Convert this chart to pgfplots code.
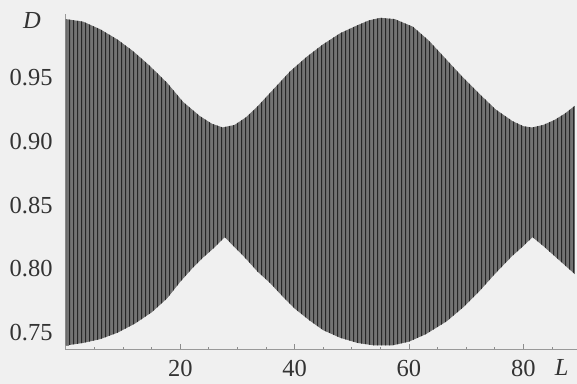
\documentclass[border=0pt]{standalone}
\usepackage{fontspec}
\setmainfont{Liberation Serif}
\usepackage{pgfplots}
\pgfplotsset{compat=1.18}
\usepackage{pgfplotstable}
\usetikzlibrary{patterns}
\pgfdeclarepatternformonly{vlinesdense}{\pgfpointorigin}{\pgfpoint{2.2pt}{1pt}}{\pgfpoint{2.2pt}{1pt}}%
{\pgfpathrectangle{\pgfpointorigin}{\pgfpoint{0.7pt}{1pt}}\pgfusepath{fill}}

% upper envelope (left to right), then lower envelope (right to left)
\pgfplotstableread{
L D
0 0.996
3 0.994
6 0.988
9 0.980
11.7 0.971
14.5 0.960
17.7 0.946
20.5 0.931
23.4 0.920
25.5 0.914
27.4 0.911
29.5 0.913
31.5 0.919
33.4 0.927
36.3 0.941
39.2 0.955
42 0.966
44.9 0.976
48 0.985
50.9 0.991
53 0.995
55 0.997
57.5 0.996
60.7 0.990
63.5 0.979
66.6 0.964
69.5 0.950
72.4 0.937
75.2 0.925
78.1 0.916
80 0.912
81.5 0.911
83.5 0.913
85.5 0.917
87.3 0.922
89 0.928
89 0.796
87.5 0.802
85.5 0.810
83.5 0.818
81.6 0.825
80 0.818
78 0.810
75 0.796
72.4 0.783
69.5 0.770
66.6 0.759
63 0.749
60 0.743
57 0.740
54 0.740
51 0.742
48 0.746
45 0.752
42.5 0.760
40 0.769
38 0.778
35.7 0.789
33.5 0.798
31.5 0.808
29.5 0.817
27.8 0.825
26 0.817
24 0.809
22 0.800
20 0.790
17.7 0.777
15 0.766
12 0.757
9 0.750
6 0.745
3 0.742
0 0.740
}\envelope

\begin{document}
\fontsize{12.3}{14}\selectfont
\begin{tikzpicture}
\fill[black!6] (-33bp,-17bp) rectangle (255.5bp,175bp);
\begin{axis}[
  at={(0,0)}, anchor=south west,
  scale only axis, width=255.5bp, height=168bp,
  xmin=0, xmax=89.3, ymin=0.7367, ymax=1.0,
  axis x line=bottom, axis y line=left,
  axis line style={-, black!40, line width=0.5pt},
  xtick={20,40,60,80}, minor xtick={5,10,15,25,30,35,45,50,55,65,70,75,85},
  ytick={0.75,0.80,0.85,0.90,0.95},
  minor ytick={0.74,0.76,0.77,0.78,0.79,0.81,0.82,0.83,0.84,0.86,0.87,0.88,0.89,0.91,0.92,0.93,0.94,0.96,0.97,0.98,0.99},
  tick align=inside, major tick length=3bp, minor tick length=1.5bp,
  tick style={black!45, line width=0.4pt},
  /pgf/number format/assume math mode=true,
  yticklabel style={/pgf/number format/.cd, fixed, fixed zerofill, precision=2, /tikz/.cd, inner sep=0pt, xshift=-6.5bp, text=black!80},
  xticklabel style={inner sep=0pt, yshift=-5bp, text=black!80},
  xlabel={\textit{L}},
  xlabel style={at={(axis description cs:0.971,0)}, anchor=center, yshift=-9bp, text=black!80},
  ylabel={\textit{D}},
  ylabel style={at={(axis description cs:-0.0665,0.982)}, anchor=center, rotate=-90, text=black!80},
]
\addplot[fill=black!55, draw=none] table[x=L, y=D] {\envelope} -- cycle;
\addplot[pattern=vlinesdense, pattern color=black!85, draw=none] table[x=L, y=D] {\envelope} -- cycle;
\end{axis}
\end{tikzpicture}
\end{document}
